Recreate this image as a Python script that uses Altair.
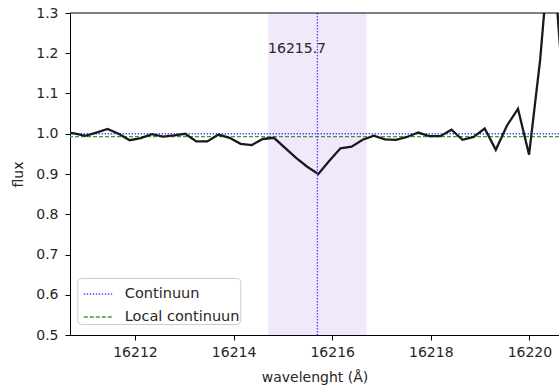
import altair as alt
import pandas as pd

# ---- data ----
wavelength = [
    16210.543, 16210.768, 16210.993, 16211.218, 16211.443, 16211.668, 16211.893,
    16212.118, 16212.343, 16212.568, 16212.793, 16213.018, 16213.243, 16213.468,
    16213.693, 16213.918, 16214.143, 16214.368, 16214.593, 16214.818, 16215.043,
    16215.268, 16215.493, 16215.718, 16215.943, 16216.168, 16216.393, 16216.618,
    16216.843, 16217.068, 16217.293, 16217.518, 16217.743, 16217.968, 16218.193,
    16218.418, 16218.643, 16218.868, 16219.093, 16219.318, 16219.543, 16219.768,
    16219.993, 16220.218, 16220.443, 16220.668,
]
flux = [
    1.004, 1.001, 0.995, 1.003, 1.012, 1.000, 0.984,
    0.989, 0.999, 0.993, 0.996, 1.000, 0.981, 0.981,
    0.998, 0.990, 0.975, 0.972, 0.987, 0.990, 0.965,
    0.940, 0.918, 0.900, 0.933, 0.964, 0.968, 0.985,
    0.995, 0.986, 0.985, 0.992, 1.003, 0.994, 0.994,
    1.010, 0.985, 0.992, 1.013, 0.960, 1.020, 1.062,
    0.948, 1.184, 1.510, 1.137,
]
line_center = [16215.7]
line_label = ["16215.7"]
span_start = [16214.7]
span_end = [16216.7]
label_y = [1.2]
cont_names = ["Continuun", "Local continuun"]
cont_levels = [1.0, 0.993]
cont_colors = ["#4848ff", "#3a9a3a"]
cont_dashes = [[1.4, 1.6], [4, 2]]

x_ticks = [16212, 16214, 16216, 16218, 16220]
y_ticks = [0.5, 0.6, 0.7, 0.8, 0.9, 1.0, 1.1, 1.2, 1.3]
x_domain = [16210.682, 16220.60]
y_domain = [0.5, 1.3]

spec_df = pd.DataFrame({"wavelength": wavelength, "flux": flux})
span_df = pd.DataFrame({"x0": span_start, "x1": span_end})
cont_df = pd.DataFrame({"series": cont_names, "level": cont_levels})
vline_df = pd.DataFrame({"x": line_center})
text_df = pd.DataFrame({"x": span_start, "y": label_y, "label": line_label})

FONT = "DejaVu Sans"
FS = 14
W, H = 489, 322

xscale = alt.Scale(domain=x_domain, nice=False, zero=False)
yscale = alt.Scale(domain=y_domain, nice=False, zero=False)

x_axis = alt.Axis(values=x_ticks, format="d", title="wavelenght (Å)",
                  labelPadding=5, titlePadding=11)
y_axis = alt.Axis(values=y_ticks, format=".1f", title="flux",
                  labelPadding=7, titlePadding=10)

legend = alt.Legend(
    title=None, orient="none", legendX=7.3, legendY=265,
    fillColor="white", strokeColor="#cccccc", cornerRadius=4,
    padding=0, symbolOffset=5.5, symbolType="stroke", symbolSize=900,
    symbolStrokeWidth=1.3, labelFont=FONT, labelFontSize=14.5,
    labelColor="#262626", labelOffset=10, rowPadding=-10,
)

span = alt.Chart(span_df).mark_rect(color="#8a2be2", opacity=0.11).encode(
    x=alt.X("x0:Q", scale=xscale, axis=x_axis),
    x2="x1:Q",
)

cont = alt.Chart(cont_df).mark_rule(strokeWidth=1.3).encode(
    y=alt.Y("level:Q", scale=yscale, axis=y_axis),
    color=alt.Color("series:N", legend=legend,
                    scale=alt.Scale(domain=cont_names, range=cont_colors)),
    strokeDash=alt.StrokeDash("series:N", legend=legend,
                              scale=alt.Scale(domain=cont_names, range=cont_dashes)),
)

spec = alt.Chart(spec_df).mark_line(color="#1a1a1a", strokeWidth=2.3, clip=True).encode(
    x=alt.X("wavelength:Q", scale=xscale, axis=x_axis),
    y=alt.Y("flux:Q", scale=yscale, axis=y_axis),
)

vline = alt.Chart(vline_df).mark_rule(strokeWidth=1.3, strokeDash=[1.4, 1.6]).encode(
    x=alt.X("x:Q", scale=xscale, axis=x_axis),
    color=alt.value("#4848ff"),
)

label = alt.Chart(text_df).mark_text(font=FONT, fontSize=FS, color="#262626",
                                     align="left", baseline="alphabetic").encode(
    x=alt.X("x:Q", scale=xscale, axis=x_axis),
    y=alt.Y("y:Q", scale=yscale, axis=y_axis),
    text="label:N",
)

topline = alt.Chart(span_df).mark_rule(strokeWidth=1).encode(
    x=alt.value(0), x2=alt.value(W), y=alt.value(0), color=alt.value("black"),
)

chart = alt.layer(span, cont, spec, vline, label, topline).properties(
    width=W, height=H,
    autosize=alt.AutoSizeParams(type="none"),
    padding={"left": 70, "top": 13, "right": 0, "bottom": 57},
).configure_view(
    stroke=None,
).configure_axis(
    grid=False,
    domainColor="black",
    domainWidth=1,
    tickColor="black",
    tickSize=5,
    labelFont=FONT,
    labelFontSize=FS,
    labelColor="#262626",
    titleFont=FONT,
    titleFontSize=FS,
    titleFontWeight="normal",
    titleColor="#262626",
)

chart.save("out.html", embed_options={"renderer": "svg", "actions": False})
